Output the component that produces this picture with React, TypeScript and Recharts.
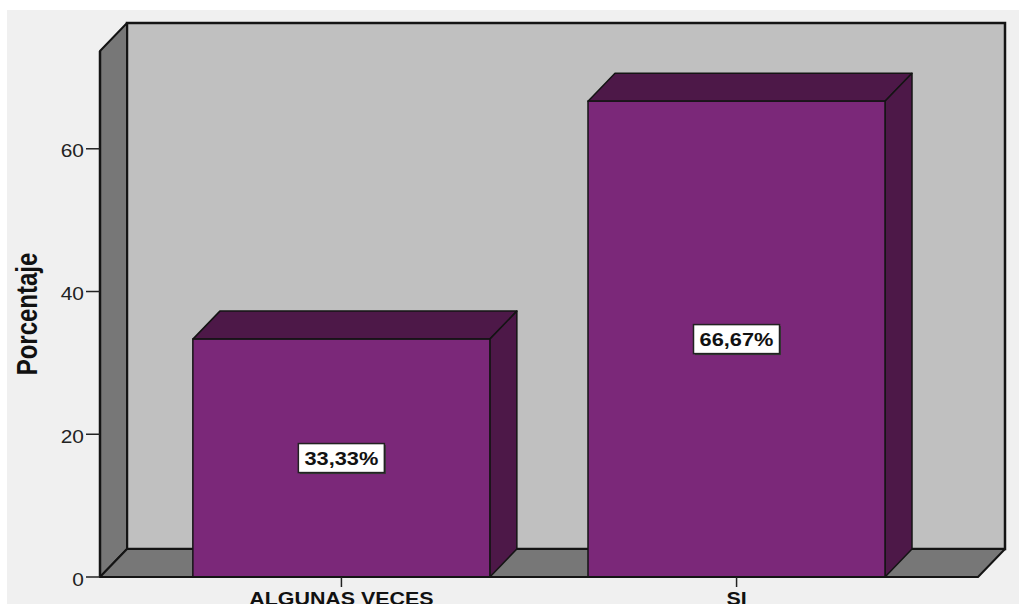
import React from 'react';
import { BarChart, Bar, XAxis, YAxis, ReferenceArea, LabelList, Label } from 'recharts';

const categories = ['ALGUNAS VECES', 'SI'];
const percentages = [33.33, 66.67];
const valueLabels = ['33,33%', '66,67%'];
const yTicks = [0, 20, 40, 60];
const xTicks = [0, 1];
const yTitle = 'Porcentaje';

const Y_MAX = 73.7;
const X_DOMAIN: [number, number] = [-0.611, 1.611];

const data = categories.map((name, i) => ({ pos: i, name, value: percentages[i], label: valueLabels[i] }));

const DX = 27;
const DY = 28;
const STROKE = '#141414';
const FONT = '"Liberation Sans", Arial, sans-serif';

const Walls = (props: any) => {
  const { x, y, width, height } = props;
  const top = Math.min(y, y + height);
  const h = Math.abs(height);
  const left = Math.min(x, x + width);
  const w = Math.abs(width);
  const b = top + h;
  return (
    <g>
      <rect x={left + DX} y={top - DY} width={w} height={h} fill="#c0c0c0" stroke={STROKE} strokeWidth={2.5} />
      <polygon
        points={`${left},${top} ${left + DX},${top - DY} ${left + DX},${b - DY} ${left},${b}`}
        fill="#777777"
        stroke={STROKE}
        strokeWidth={2}
        strokeLinejoin="round"
      />
      <polygon
        points={`${left},${b} ${left + DX},${b - DY} ${left + w + DX},${b - DY} ${left + w},${b}`}
        fill="#777777"
        stroke={STROKE}
        strokeWidth={2}
        strokeLinejoin="round"
      />
    </g>
  );
};

const Bar3D = (props: any) => {
  const { x, y, width, height } = props;
  const top = Math.min(y, y + height);
  const h = Math.abs(height);
  const w = width;
  const b = top + h;
  return (
    <g>
      <polygon
        points={`${x},${top} ${x + DX},${top - DY} ${x + w + DX},${top - DY} ${x + w},${top}`}
        fill="#4d1848"
        stroke={STROKE}
        strokeWidth={1.5}
        strokeLinejoin="round"
      />
      <polygon
        points={`${x + w},${top} ${x + w + DX},${top - DY} ${x + w + DX},${b - DY} ${x + w},${b}`}
        fill="#4d1848"
        stroke={STROKE}
        strokeWidth={1.5}
        strokeLinejoin="round"
      />
      <rect x={x} y={top} width={w} height={h} fill="#7b2879" stroke={STROKE} strokeWidth={1.5} />
    </g>
  );
};

const ValueBox = (props: any) => {
  const vb = props.viewBox || {};
  const x = props.x ?? vb.x;
  const y = props.y ?? vb.y;
  const width = props.width ?? vb.width;
  const height = props.height ?? vb.height;
  const value = String(props.value);
  const cx = x + width / 2;
  const cy = y + height / 2;
  const bw = value.length * 12.5 + 11;
  const bh = 29;
  return (
    <g>
      <rect x={cx - bw / 2 + 1.5} y={cy - bh / 2 + 1.5} width={bw} height={bh} fill="#3a3a3a" />
      <rect x={cx - bw / 2} y={cy - bh / 2} width={bw} height={bh} fill="#ffffff" stroke="#222" strokeWidth={1.5} />
      <g transform={`translate(${cx},${cy + 6.5}) scale(1.21,1)`}>
        <text x={0} y={0} textAnchor="middle" fontFamily={FONT} fontWeight="bold" fontSize={18} fill="#111">
          {value}
        </text>
      </g>
    </g>
  );
};

const YTick = (props: any) => {
  const { x, y, payload } = props;
  return (
    <g transform={`translate(${x},${y + 8.5}) scale(1.1,1)`}>
      <text x={0} y={0} textAnchor="end" fontFamily={FONT} fontSize={19} fill="#222">
        {payload.value}
      </text>
    </g>
  );
};

const XTick = (props: any) => {
  const { x, y, payload } = props;
  const name = categories[Math.round(payload.value)];
  return (
    <g transform={`translate(${x},${y + 18}) scale(1.19,1)`}>
      <text x={0} y={0} textAnchor="middle" fontFamily={FONT} fontWeight="bold" fontSize={18} fill="#111">
        {name}
      </text>
    </g>
  );
};

const Title = (props: any) => {
  const vb = props.viewBox || { x: 0, y: 0, width: 0, height: 0 };
  const cx = vb.x + 30;
  const cy = vb.y + vb.height / 2;
  return (
    <g transform={`translate(${cx},${cy}) scale(1.2,1) rotate(-90)`}>
      <text x={0} y={0} textAnchor="middle" fontFamily={FONT} fontWeight="bold" fontSize={24} fill="#111">
        {yTitle}
      </text>
    </g>
  );
};

export default function App() {
  return (
    <div
      style={{
        position: 'absolute',
        left: 7,
        top: 10,
        width: 1012,
        height: 594,
        background: '#f0f0f0',
        overflow: 'hidden',
      }}
    >
      <BarChart
        width={1012}
        height={594}
        data={data}
        margin={{ top: 41, right: 41, left: 0, bottom: 0 }}
        barSize={297}
      >
        <ReferenceArea
          x1={X_DOMAIN[0]}
          x2={X_DOMAIN[1]}
          y1={0}
          y2={Y_MAX}
          ifOverflow="visible"
          shape={(p: any) => <Walls {...p} />}
        />
        <XAxis
          type="number"
          dataKey="pos"
          domain={X_DOMAIN}
          allowDataOverflow
          ticks={xTicks}
          interval={0}
          height={27}
          tickSize={10}
          tickMargin={0}
          axisLine={{ stroke: STROKE, strokeWidth: 2 }}
          tickLine={{ stroke: '#222', strokeWidth: 1.5 }}
          tick={<XTick />}
        />
        <YAxis
          type="number"
          domain={[0, Y_MAX]}
          allowDataOverflow
          ticks={yTicks}
          interval={0}
          width={93}
          tickSize={14}
          tickMargin={2}
          axisLine={{ stroke: STROKE, strokeWidth: 2.5 }}
          tickLine={{ stroke: '#222', strokeWidth: 1.5 }}
          tick={<YTick />}
        >
          <Label content={<Title />} />
        </YAxis>
        <Bar dataKey="value" isAnimationActive={false} shape={(p: any) => <Bar3D {...p} />}>
          <LabelList dataKey="label" content={<ValueBox />} />
        </Bar>
      </BarChart>
    </div>
  );
}
